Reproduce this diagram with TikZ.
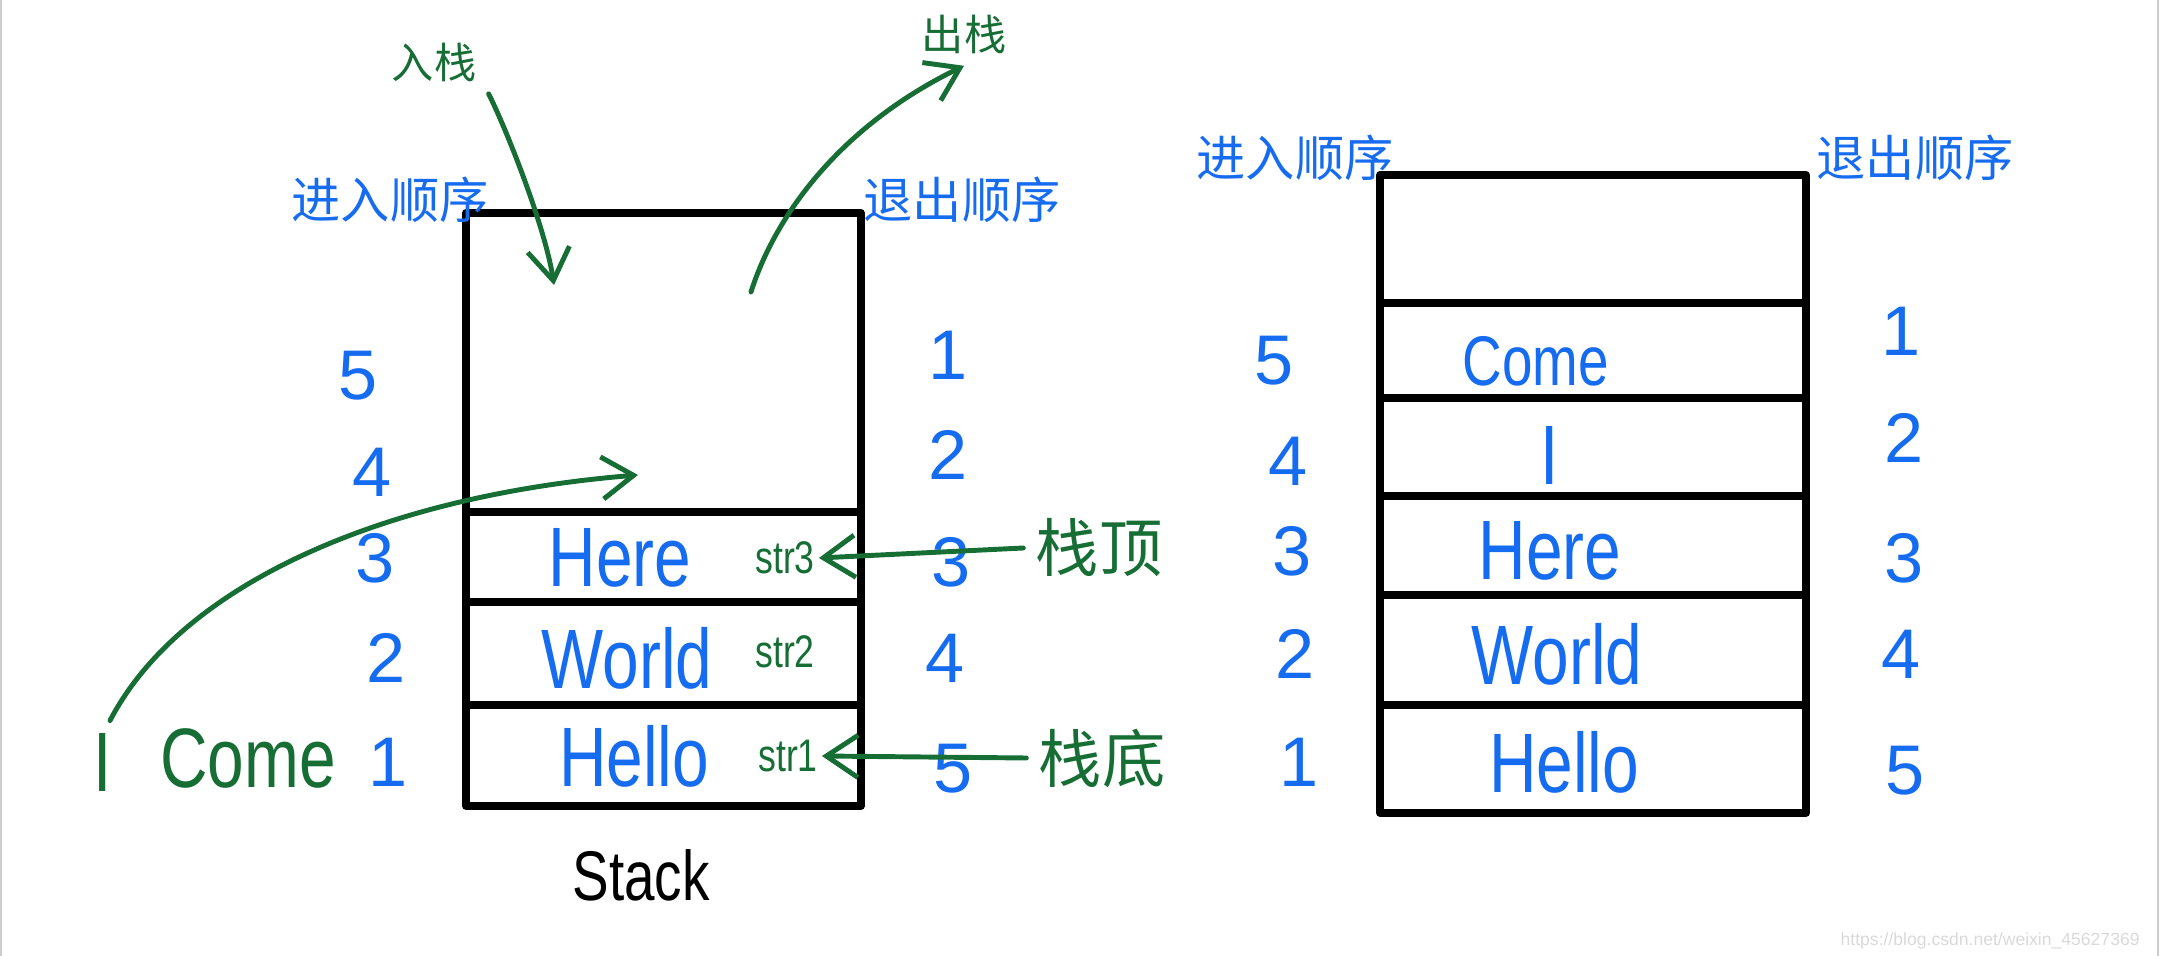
\documentclass[tikz,border=0pt]{standalone}
\usepackage{fontspec}
\setmainfont{Liberation Sans}
\newfontfamily\hand[FakeStretch=0.78]{Liberation Sans}
\newfontfamily\cjk{Noto Sans CJK SC}
\usetikzlibrary{arrows.meta}
\definecolor{handblue}{RGB}{22,108,240}
\definecolor{handgreen}{RGB}{22,110,52}
\tikzset{
  cell/.style={black, line width=2.2pt, line join=round},
  num/.style={handblue, font=\fontsize{20}{20}\selectfont},
  word/.style={handblue, font=\hand\fontsize{24}{24}\selectfont},
  tag/.style={handgreen, font=\hand\fontsize{13}{13}\selectfont},
  order/.style={handblue, font=\cjk\fontsize{14}{14}\selectfont},
  gnote/.style={handgreen, font=\cjk\fontsize{12}{12}\selectfont},
  move/.style={handgreen, line width=1.4pt, line cap=round,
    -{Straight Barb[length=9pt,width=12pt,line width=1.4pt]}}
}
\begin{document}
\begin{tikzpicture}
  \useasboundingbox (0,0) rectangle (21.6,9.56);
  % 截图边框
  \draw[gray!40, line width=0.6pt] (0.01,0) -- (0.01,9.56);
  \draw[gray!40, line width=0.6pt] (21.58,0) -- (21.58,9.56);

  % 左边的栈
  \draw[cell] (4.66,1.50) rectangle (8.61,7.43);
  \draw[cell] (4.66,4.44) -- (8.61,4.44);
  \draw[cell] (4.66,3.54) -- (8.61,3.54);
  \draw[cell] (4.66,2.51) -- (8.61,2.51);

  % 左栈：标题
  \node[order] (inL) at (3.90,7.56) {进入顺序};
  \node[order] (outL) at (9.62,7.56) {退出顺序};

  % 左栈：进入顺序
  \node[num] (inL5) at (3.58,5.80) {5};
  \node[num] (inL4) at (3.72,4.84) {4};
  \node[num] (inL3) at (3.75,3.98) {3};
  \node[num] (inL2) at (3.86,2.98) {2};
  \node[num] (inL1) at (3.88,1.94) {1};

  % 左栈：退出顺序
  \node[num] (outL1) at (9.48,6.01) {1};
  \node[num] (outL2) at (9.48,5.01) {2};
  \node[num] (outL3) at (9.51,3.94) {3};
  \node[num] (outL4) at (9.45,2.98) {4};
  \node[num] (outL5) at (9.53,1.87) {5};

  % 左栈：内容
  \node[word] (hereL) at (6.20,3.98) {Here};
  \node[word] (worldL) at (6.27,2.98) {World};
  \node[word] (helloL) at (6.34,2.00) {Hello};
  \node[tag, inner sep=1pt] (s3) at (7.85,3.98) {str3};
  \node[tag, inner sep=1pt] (s2) at (7.85,3.04) {str2};
  \node[tag, inner sep=1pt] (s1) at (7.88,2.00) {str1};

  % 等待入栈的元素
  \node[handgreen, font=\hand\fontsize{24}{24}\selectfont] (wI) at (1.03,1.94) {I};
  \node[handgreen, font=\hand\fontsize{24}{24}\selectfont] (wCome) at (2.48,1.98) {Come};
  \coordinate (iEnd) at (6.38,4.81);
  \draw[move] ([xshift=2pt]wI.north) .. controls (1.8,3.7) and (3.8,4.6) .. (iEnd);

  % 入栈、出栈
  \node[gnote] (push) at (4.34,8.94) {入栈};
  \node[gnote] (pop) at (9.64,9.22) {出栈};
  \coordinate (pushEnd) at (5.54,6.71);
  \coordinate (popStart) at (7.51,6.64);
  \draw[move] (push.south east) .. controls (5.05,8.3) and (5.45,7.3) .. (pushEnd);
  \draw[move] (popStart) .. controls (7.75,7.4) and (8.4,8.3) .. (pop.south);

  % 栈顶、栈底
  \node[gnote, font=\cjk\fontsize{18}{18}\selectfont] (top) at (10.99,4.08) {栈顶};
  \node[gnote, font=\cjk\fontsize{18}{18}\selectfont] (bottom) at (11.02,1.98) {栈底};
  \draw[move] (top.west) -- (s3.east);
  \draw[move] (bottom.west) -- (s1.east);

  \node[font=\hand\fontsize{20}{20}\selectfont] (stackname) at (6.41,0.81) {Stack};

  % 右边的栈
  \draw[cell] (13.80,1.43) rectangle (18.06,7.81);
  \draw[cell] (13.80,6.53) -- (18.06,6.53);
  \draw[cell] (13.80,5.58) -- (18.06,5.58);
  \draw[cell] (13.80,4.60) -- (18.06,4.60);
  \draw[cell] (13.80,3.61) -- (18.06,3.61);
  \draw[cell] (13.80,2.51) -- (18.06,2.51);

  \node[order] (inR) at (12.95,7.98) {进入顺序};
  \node[order] (outR) at (19.15,7.98) {退出顺序};

  \node[num] (inR5) at (12.74,5.95) {5};
  \node[num] (inR4) at (12.88,4.95) {4};
  \node[num] (inR3) at (12.92,4.05) {3};
  \node[num] (inR2) at (12.95,3.02) {2};
  \node[num] (inR1) at (12.99,1.94) {1};

  \node[num] (outR1) at (19.01,6.25) {1};
  \node[num] (outR2) at (19.04,5.18) {2};
  \node[num] (outR3) at (19.04,3.98) {3};
  \node[num] (outR4) at (19.01,3.02) {4};
  \node[num] (outR5) at (19.05,1.85) {5};

  \node[word, font=\hand\fontsize{20}{20}\selectfont] (comeR) at (15.36,5.95) {Come};
  \node[word] (iR) at (15.50,5.01) {I};
  \node[word] (hereR) at (15.50,4.05) {Here};
  \node[word] (worldR) at (15.57,3.02) {World};
  \node[word] (helloR) at (15.64,1.94) {Hello};

  % 水印
  \node[gray!30, font=\fontsize{5}{5}\selectfont, anchor=east] (mark) at (21.52,0.15)
    {https://blog.csdn.net/weixin\_45627369};
\end{tikzpicture}
\end{document}
